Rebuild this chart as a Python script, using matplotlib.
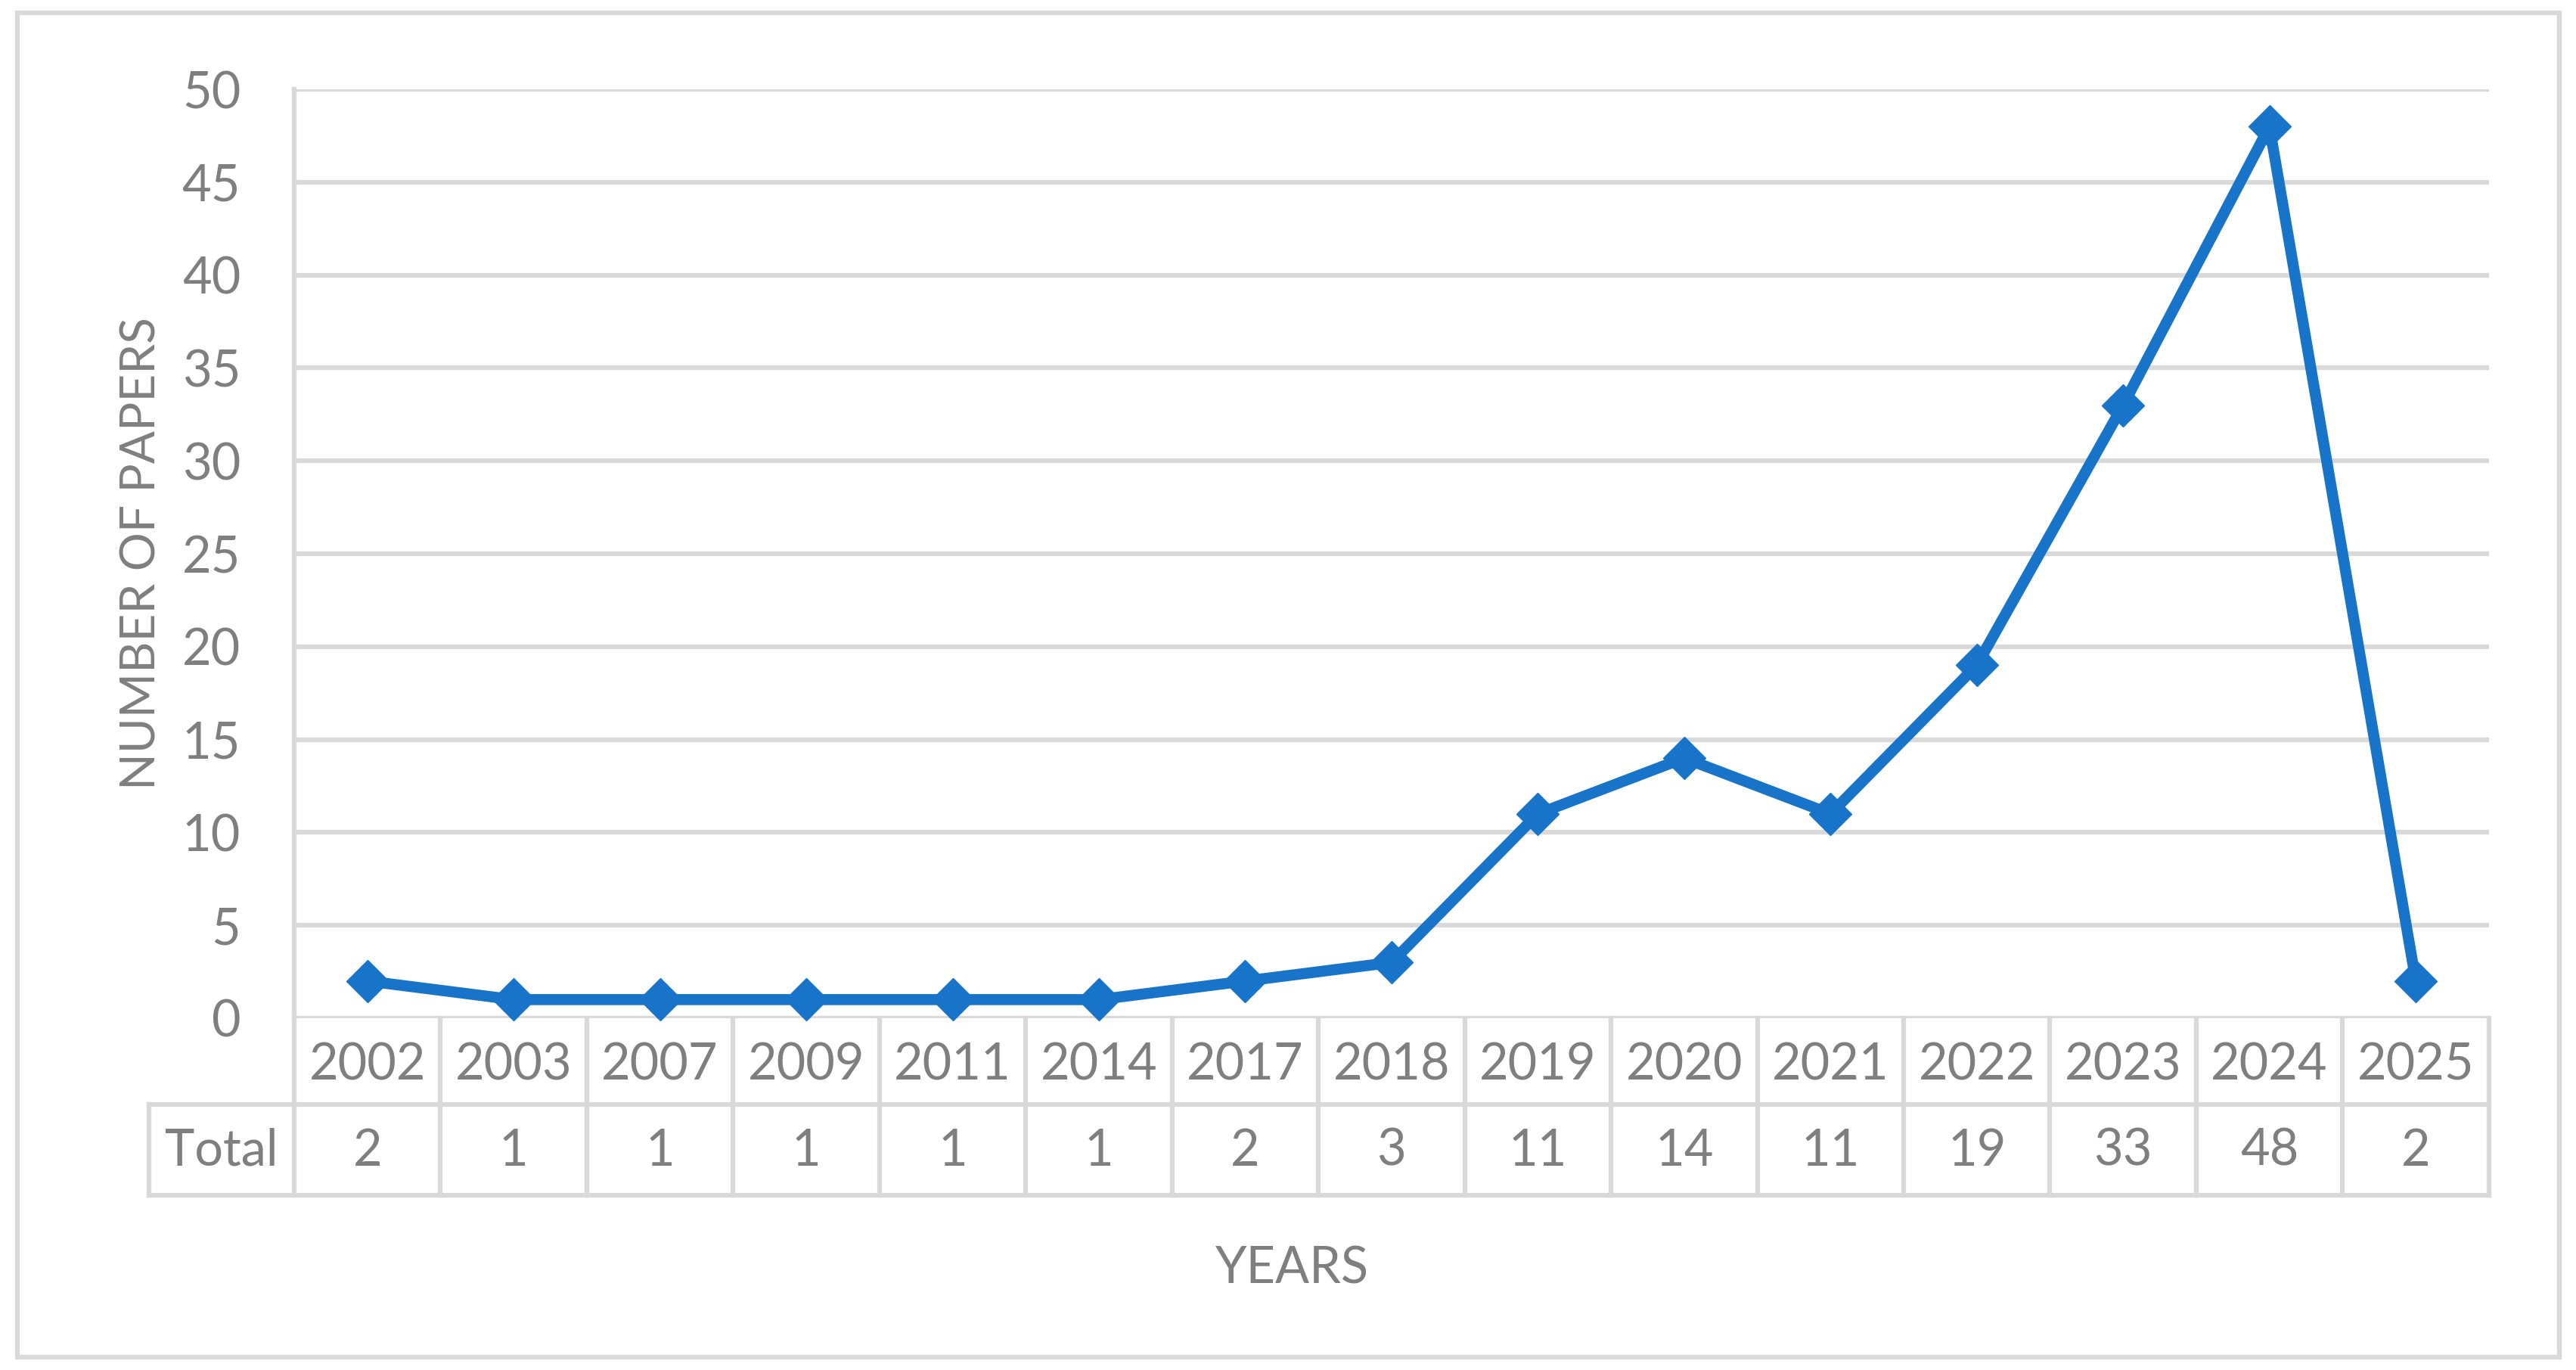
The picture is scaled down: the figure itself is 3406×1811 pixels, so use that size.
import matplotlib
matplotlib.use("Agg")
import matplotlib.pyplot as plt
from matplotlib.patches import Rectangle

# data
years = ['2002', '2003', '2007', '2009', '2011', '2014', '2017', '2018',
         '2019', '2020', '2021', '2022', '2023', '2024', '2025']
totals = [2, 1, 1, 1, 1, 1, 2, 3, 11, 14, 11, 19, 33, 48, 2]
y_ticks = [0, 5, 10, 15, 20, 25, 30, 35, 40, 45, 50]
row_label = 'Total'

GRID = '#d9d9d9'
TXT = '#7f7f7f'
BLUE = '#1874c8'
FS = 48
LW = 4.5

plt.rcParams['font.family'] = ['Lato', 'DejaVu Sans']

fig = plt.figure(figsize=(34.06, 18.11), dpi=100)
fig.patch.set_facecolor('white')

# outer chart border
fig.add_artist(Rectangle((0.0068, 0.0094), 0.9867, 0.9812, transform=fig.transFigure,
                         fill=False, edgecolor=GRID, linewidth=LW))

ax = fig.add_axes([0.1142, 0.2568, 0.852, 0.678])
x = list(range(len(years)))

ax.set_xlim(-0.5, len(years) - 0.5)
ax.set_ylim(0, 50)
ax.set_yticks(y_ticks)
ax.set_yticklabels([str(t) for t in y_ticks])
ax.tick_params(axis='y', length=0, pad=51, labelsize=FS, labelcolor=TXT)
ax.set_xticks([])
ax.yaxis.grid(True, color=GRID, linewidth=LW, zorder=0)
ax.set_axisbelow(True)
for side in ['top', 'right', 'bottom']:
    ax.spines[side].set_visible(False)
ax.spines['left'].set_color(GRID)
ax.spines['left'].set_linewidth(LW)

ax.plot(x, totals, color=BLUE, linewidth=10.5, marker='D', markersize=29,
        markerfacecolor=BLUE, markeredgecolor=BLUE, zorder=3, clip_on=False)

ax.set_ylabel('NUMBER OF PAPERS', fontsize=46, color=TXT)
ax.yaxis.set_label_coords(-0.0595, 0.5)

# data table under the axis
tr = ax.get_xaxis_transform()
row_mid = -0.0928
row_bot = -0.1906
left_cell = -1.49
n = len(years)
for i in range(n + 1):
    ax.plot([i - 0.5, i - 0.5], [0, row_bot], transform=tr, color=GRID,
            linewidth=LW, clip_on=False, solid_capstyle='projecting')
ax.plot([left_cell, left_cell], [row_mid, row_bot], transform=tr, color=GRID,
        linewidth=LW, clip_on=False, solid_capstyle='projecting')
for yy in [row_mid, row_bot]:
    ax.plot([left_cell, n - 0.5], [yy, yy], transform=tr, color=GRID,
            linewidth=LW, clip_on=False, solid_capstyle='projecting')

for i, (yr, v) in enumerate(zip(years, totals)):
    ax.text(i, -0.051, yr, transform=tr, ha='center', va='center',
            fontsize=FS, color=TXT)
    ax.text(i, -0.143, str(v), transform=tr, ha='center', va='center',
            fontsize=FS, color=TXT)
ax.text((left_cell - 0.5) / 2, -0.143, row_label, transform=tr, ha='center',
        va='center', fontsize=FS, color=TXT)

fig.text(0.5015, 0.0735, 'YEARS', ha='center', va='center', fontsize=FS, color=TXT)

fig.savefig('out.png', dpi=100, facecolor='white')
